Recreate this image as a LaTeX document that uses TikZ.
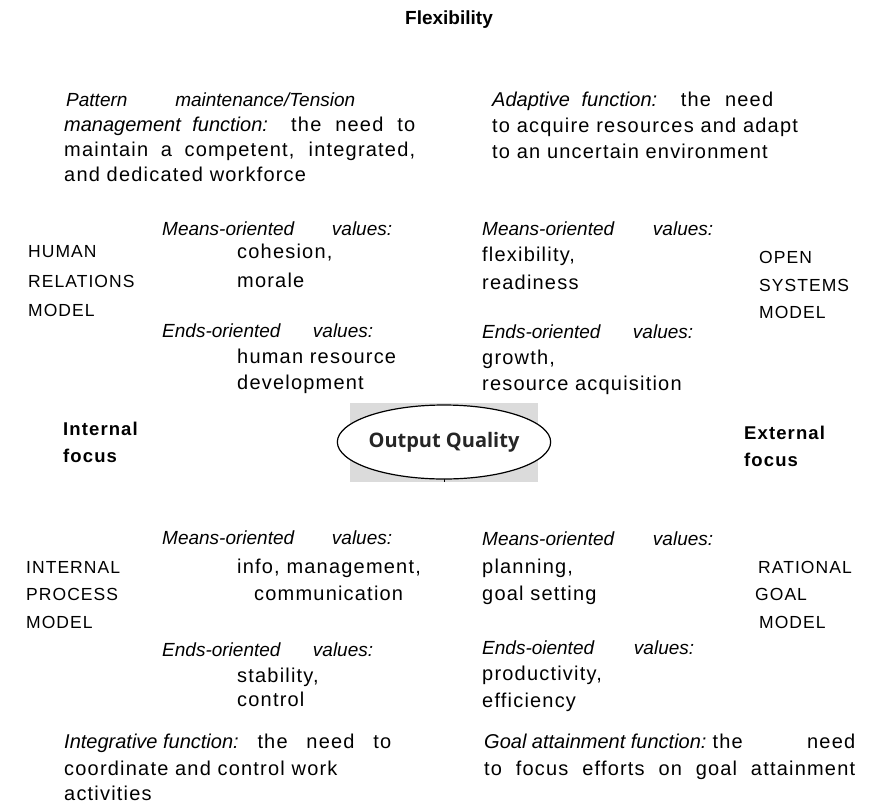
\documentclass[tikz,border=0pt]{standalone}
\usepackage{fontspec}
\usetikzlibrary{shapes.geometric}
\setmainfont{Liberation Sans}
\newfontfamily\wideface{Liberation Sans}[LetterSpace=6]
\newfontfamily\badgeface{Open Sans}
% italic run inside a letter-spaced line
\newcommand\itpart[1]{{\normalfont\itshape #1}}
\newcommand\itbox[1]{\mbox{\normalfont\itshape #1}}
\begin{document}
\begin{tikzpicture}[x=1pt,y=-1pt,
  txt/.style={anchor=base west,inner sep=0pt,font=\fontsize{20}{24}\selectfont\wideface},
  capx/.style={anchor=base west,inner sep=0pt,font=\fontsize{17.5}{24}\selectfont\wideface},
  itx/.style={anchor=base west,inner sep=0pt,font=\fontsize{19}{24}\selectfont\itshape},
  headx/.style={inner sep=0pt,font=\fontsize{19}{22}\selectfont\bfseries},
  focusx/.style={anchor=base west,inner sep=0pt,font=\fontsize{18.5}{24}\selectfont\bfseries\wideface}]
\useasboundingbox (0,0) rectangle (876,804);

% axis label
\node[headx] (flex) at (449,20) {Flexibility};

% top-left: pattern maintenance function
\node[itx] (pm1) at (66,106) {\makebox[289pt][s]{Pattern maintenance/Tension}};
\node[txt] (pm2) at (64,131) {\makebox[351pt][s]{\itpart{management function:} the need to}};
\node[txt] (pm3) at (64,156) {\makebox[351pt][s]{maintain a competent, integrated,}};
\node[txt] (pm4) at (64,181) {and dedicated workforce};

% top-right: adaptive function
\node[txt] (ad1) at (492,106) {\makebox[281pt][s]{\itpart{Adaptive function:} the need}};
\node[txt] (ad2) at (492,132) {to acquire resources and adapt};
\node[txt] (ad3) at (492,158) {to an uncertain environment};

% human relations model
\node[itx] (hrm) at (162,235) {\makebox[230pt][s]{Means-oriented values:}};
\node[txt] (hrm1) at (237,258) {cohesion,};
\node[txt] (hrm2) at (237,287) {morale};
\node[itx] (hre) at (162,337) {\makebox[211pt][s]{Ends-oriented values:}};
\node[txt] (hre1) at (237,363) {human resource};
\node[txt] (hre2) at (237,389) {development};
\node[capx] (hr1) at (28,257) {HUMAN};
\node[capx] (hr2) at (28,287) {RELATIONS};
\node[capx] (hr3) at (28,316) {MODEL};

% open systems model
\node[itx] (osm) at (482,235) {\makebox[231pt][s]{Means-oriented values:}};
\node[txt] (osm1) at (482,261) {flexibility,};
\node[txt] (osm2) at (482,289) {readiness};
\node[capx] (os1) at (759,263) {OPEN};
\node[capx] (os2) at (759,291) {SYSTEMS};
\node[capx] (os3) at (759,318) {MODEL};
\node[itx] (ose) at (482,338) {\makebox[211pt][s]{Ends-oriented values:}};
\node[txt] (ose1) at (482,364) {growth,};
\node[txt] (ose2) at (482,390) {resource acquisition};

% focus labels
\node[focusx] (inf1) at (63,435) {Internal};
\node[focusx] (inf2) at (63,462) {focus};
\node[focusx] (exf1) at (744,439) {External};
\node[focusx] (exf2) at (744,466) {focus};

% centre badge
\fill[gray!28] (350,403) rectangle (538,482);
\draw[line width=0.9pt] (538,436) -- (538,448);
\draw[line width=0.9pt] (444,476) -- (444,482);
\node[ellipse,draw,line width=1.2pt,fill=white,minimum width=186pt,minimum height=74pt,inner sep=0pt,
      font=\fontsize{20}{22}\selectfont\bfseries\badgeface,text=black!85] (oq) at (444,442) {Output Quality};

% internal process model
\node[itx] (ipm) at (162,544) {\makebox[230pt][s]{Means-oriented values:}};
\node[txt] (ipm1) at (237,573) {info, management,};
\node[txt] (ipm2) at (254,600) {communication};
\node[itx] (ipe) at (162,656) {\makebox[211pt][s]{Ends-oriented values:}};
\node[txt] (ipe1) at (237,682) {stability,};
\node[txt] (ipe2) at (237,706) {control};
\node[capx] (ip1) at (26,573) {INTERNAL};
\node[capx] (ip2) at (26,600) {PROCESS};
\node[capx] (ip3) at (26,628) {MODEL};

% rational goal model
\node[itx] (rgm) at (482,545) {\makebox[231pt][s]{Means-oriented values:}};
\node[txt] (rgm1) at (482,573) {planning,};
\node[txt] (rgm2) at (482,600) {goal setting};
\node[capx] (rg1) at (758,573) {RATIONAL};
\node[capx] (rg2) at (755,600) {GOAL};
\node[capx] (rg3) at (759,628) {MODEL};
\node[itx] (rge) at (482,654) {\makebox[212pt][s]{Ends-oiented values:}};
\node[txt] (rge1) at (482,680) {productivity,};
\node[txt] (rge2) at (482,707) {efficiency};

% bottom-left: integrative function
\node[txt] (in1) at (64,748) {\makebox[327pt][s]{\itbox{Integrative function:} the need to}};
\node[txt] (in2) at (64,775) {coordinate and control work};
\node[txt] (in3) at (64,800) {activities};

% bottom-right: goal attainment function
\node[txt] (ga1) at (484,748) {\makebox[371pt][s]{\itbox{Goal attainment function:}\hspace{6pt}the\hspace{24pt plus 20pt}need}};
\node[txt] (ga2) at (484,775) {\makebox[371pt][s]{to focus efforts on goal attainment}};
\end{tikzpicture}
\end{document}
